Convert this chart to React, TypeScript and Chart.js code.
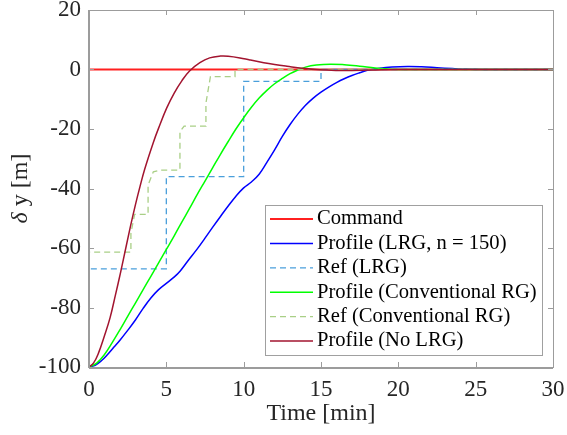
import React, { useEffect, useRef } from 'react';
import { Chart, registerables } from 'chart.js';

Chart.register(...registerables);

// Axis ticks
const xTickValues = [0, 5, 10, 15, 20, 25, 30];
const yTickValues = [-100, -80, -60, -40, -20, 0, 20];

// Command (constant target)
const commandTime = [0, 30];
const commandValue = [0, 0];

// Profile (LRG, n = 150)
const lrgTime = [0, 0.4, 0.8, 1.2, 1.6, 2.0, 2.5, 3.0, 3.5, 4.0, 4.5, 5.0, 5.5, 5.9, 6.4, 7.0, 7.5, 8.0, 8.5, 9.0, 9.5, 10.0, 10.5, 11.0, 11.5, 12.0, 12.5, 13.0, 13.5, 14.0, 14.5, 15.0, 15.5, 16.0, 16.5, 17.0, 17.5, 18.0, 18.8, 19.6, 20.6, 21.5, 22.5, 23.5, 24.5, 26, 30];
const lrgProfile = [-100, -99.4, -97.9, -95.8, -93.4, -91, -87.7, -84.2, -80.3, -76.8, -74, -71.9, -69.8, -67.7, -64.3, -60.3, -56.7, -53, -49.4, -45.9, -42.6, -39.8, -37.8, -35.2, -31.2, -27, -22.5, -18.5, -15, -12, -9.6, -7.6, -5.9, -4.4, -3.1, -2.0, -1.1, -0.3, 0.4, 0.8, 1.0, 0.9, 0.6, 0.3, 0.05, 0, 0];

// Ref (LRG)
const lrgRefTime = [0, 0, 5, 5, 10, 10, 15, 15, 30];
const lrgRefValue = [-100, -67, -67, -36, -36, -4, -4, 0, 0];

// Profile (Conventional RG)
const convTime = [0, 0.5, 1.0, 1.5, 2.0, 2.5, 3.0, 3.5, 4.0, 4.5, 5.0, 5.5, 6.0, 6.5, 7.0, 7.5, 8.0, 8.5, 9.0, 9.5, 10.0, 10.5, 11.0, 11.5, 12.0, 12.5, 13.0, 13.5, 14.0, 14.7, 15.6, 16.5, 17.5, 18.5, 19.5, 21, 30];
const convProfile = [-100, -98.7, -95.8, -91.8, -87.5, -83, -78.5, -74, -69.5, -65, -60.5, -56, -51.3, -46.7, -42, -37.5, -33, -28.5, -24.2, -20, -16.2, -12.7, -9.6, -7, -4.8, -3, -1.4, -0.2, 0.8, 1.5, 1.8, 1.6, 1.1, 0.5, 0.1, 0, 0];

// Ref (Conventional RG)
const convRefTime = [0, 0, 2.71, 2.71, 2.95, 3.82, 3.82, 4.16, 4.6, 5.88, 5.88, 6.15, 7.56, 7.56, 7.85, 9.44, 9.44, 30];
const convRefValue = [-100, -61.4, -61.4, -55, -48.7, -48.7, -38.8, -34.4, -33.8, -33.8, -20.9, -19, -19, -11.3, -2.4, -2.4, 0, 0];

// Profile (No LRG)
const noLrgTime = [0, 0.3, 0.6, 1.0, 1.36, 1.7, 2.05, 2.4, 2.69, 3.0, 3.3, 3.6, 4.16, 4.5, 5.02, 5.5, 6.0, 6.5, 7.17, 7.8, 8.5, 9.0, 9.76, 10.4, 11.3, 12.0, 12.8, 13.8, 14.9, 16, 17, 18.2, 20, 30];
const noLrgProfile = [-100, -98.6, -95.5, -89.5, -83.5, -76, -68, -59.5, -52.5, -45.5, -39.3, -33.5, -24.5, -19.7, -13, -8, -3.8, -0.5, 2.3, 3.9, 4.5, 4.45, 3.9, 3.2, 2.3, 1.7, 1.1, 0.4, -0.1, -0.3, -0.3, -0.2, 0, 0];

const seriesLabels = [
  'Command',
  'Profile (LRG, n = 150)',
  'Ref (LRG)',
  'Profile (Conventional RG)',
  'Ref (Conventional RG)',
  'Profile (No LRG)',
];

const FONT = '"Liberation Serif", "Times New Roman", serif';
const AXIS_GRAY = '#9c9c9c';
const TEXT_DARK = '#262626';

const toPoints = (t: number[], v: number[]) => t.map((x, i) => ({ x, y: v[i] }));

// Box around the plot with inward tick marks on all four sides, the y-axis
// title (italic delta) and an in-plot legend in the lower right corner.
const boxAndLegend = {
  id: 'boxAndLegend',
  afterDatasetsDraw(chart: any) {
    const { ctx, chartArea, scales } = chart;
    const { left, right, top, bottom } = chartArea;
    const xs = scales.x;
    const ys = scales.y;
    const tickLen = 5;
    ctx.save();
    ctx.strokeStyle = AXIS_GRAY;
    ctx.lineWidth = 1;
    ctx.beginPath();
    xs.ticks.forEach((t: any) => {
      const px = Math.round(xs.getPixelForValue(t.value)) + 0.5;
      ctx.moveTo(px, bottom);
      ctx.lineTo(px, bottom - tickLen);
      ctx.moveTo(px, top);
      ctx.lineTo(px, top + tickLen);
    });
    ys.ticks.forEach((t: any) => {
      const py = Math.round(ys.getPixelForValue(t.value)) + 0.5;
      ctx.moveTo(left, py);
      ctx.lineTo(left + tickLen, py);
      ctx.moveTo(right, py);
      ctx.lineTo(right - tickLen, py);
    });
    ctx.stroke();
    ctx.strokeRect(Math.round(left) + 0.5, Math.round(top) + 0.5, Math.round(right - left), Math.round(bottom - top));
    ctx.lineWidth = 2;
    ctx.beginPath();
    ctx.moveTo(Math.round(left), Math.round(bottom) + 1);
    ctx.lineTo(Math.round(right), Math.round(bottom) + 1);
    ctx.moveTo(Math.round(left), Math.round(bottom) + 1);
    ctx.lineTo(Math.round(left), Math.round(top));
    ctx.stroke();

    // y-axis title: italic delta followed by upright text
    ctx.save();
    ctx.translate(20.5, (top + bottom) / 2);
    ctx.rotate(-Math.PI / 2);
    ctx.fillStyle = TEXT_DARK;
    ctx.textBaseline = 'middle';
    ctx.textAlign = 'left';
    const partA = 'δ';
    const partB = ' y [m]';
    ctx.font = `italic 24px ${FONT}`;
    const wA = ctx.measureText(partA).width;
    ctx.font = `24px ${FONT}`;
    const wB = ctx.measureText(partB).width;
    const start = -(wA + wB) / 2;
    ctx.font = `italic 24px ${FONT}`;
    ctx.fillText(partA, start, 0);
    ctx.font = `24px ${FONT}`;
    ctx.fillText(partB, start + wA, 0);
    ctx.restore();

    // legend
    const datasets = chart.data.datasets;
    ctx.font = `20.6px ${FONT}`;
    const rowH = 24.4;
    const sampleLen = 43;
    const pad = 5;
    const gap = 4;
    let maxW = 0;
    datasets.forEach((d: any) => {
      maxW = Math.max(maxW, ctx.measureText(d.label).width);
    });
    const boxW = pad + sampleLen + gap + maxW + pad;
    const boxH = datasets.length * rowH + 3.6;
    const bx = Math.round(right - 11 - boxW);
    const by = Math.round(bottom - 12 - boxH);
    ctx.fillStyle = '#ffffff';
    ctx.fillRect(bx, by, boxW, boxH);
    ctx.strokeStyle = '#a0a0a0';
    ctx.lineWidth = 1;
    ctx.strokeRect(bx + 0.5, by + 0.5, Math.round(boxW), Math.round(boxH));
    datasets.forEach((d: any, i: number) => {
      const cy = by + 14 + i * rowH;
      ctx.save();
      ctx.strokeStyle = d.borderColor;
      ctx.lineWidth = d.borderWidth;
      ctx.setLineDash(d.borderDash || []);
      ctx.beginPath();
      ctx.moveTo(bx + pad, cy);
      ctx.lineTo(bx + pad + sampleLen, cy);
      ctx.stroke();
      ctx.restore();
      ctx.fillStyle = '#000000';
      ctx.textBaseline = 'middle';
      ctx.textAlign = 'left';
      ctx.fillText(d.label, bx + pad + sampleLen + gap, cy);
    });
    ctx.restore();
  },
};

export default function App() {
  const canvasRef = useRef<HTMLCanvasElement>(null);

  useEffect(() => {
    if (!canvasRef.current) return;
    const series = [
      { t: commandTime, v: commandValue, color: '#ff2020', width: 2, dash: [] as number[], smooth: false },
      { t: lrgTime, v: lrgProfile, color: '#0000ff', width: 1.5, dash: [], smooth: true },
      { t: lrgRefTime, v: lrgRefValue, color: '#4a9fdb', width: 1.3, dash: [6, 4], smooth: false },
      { t: convTime, v: convProfile, color: '#00ff00', width: 1.5, dash: [], smooth: true },
      { t: convRefTime, v: convRefValue, color: '#a9cf86', width: 1.3, dash: [6, 4], smooth: false },
      { t: noLrgTime, v: noLrgProfile, color: '#a2142f', width: 1.5, dash: [], smooth: true },
    ];
    const chart = new Chart(canvasRef.current, {
      type: 'line',
      data: {
        datasets: series.map((s, i) => ({
          label: seriesLabels[i],
          data: toPoints(s.t, s.v),
          borderColor: s.color,
          backgroundColor: s.color,
          borderWidth: s.width,
          borderDash: s.dash,
          pointRadius: 0,
          fill: false,
          tension: s.smooth ? 0.4 : 0,
          order: -i,
        })),
      },
      options: {
        responsive: false,
        animation: false,
        devicePixelRatio: 1,
        layout: { padding: { top: 10, right: 14, bottom: 0, left: 0 } },
        plugins: {
          legend: { display: false },
          tooltip: { enabled: false },
        },
        scales: {
          x: {
            type: 'linear',
            min: 0,
            max: 30,
            afterBuildTicks: (scale: any) => {
              scale.ticks = xTickValues.map((value) => ({ value }));
            },
            afterFit: (scale: any) => {
              scale.height = 68;
              scale.paddingLeft = 0;
              scale.paddingRight = 0;
            },
            grid: { display: false, drawTicks: false },
            border: { display: false },
            ticks: {
              color: TEXT_DARK,
              font: { family: FONT, size: 23 },
              padding: 9,
              maxRotation: 0,
            },
            title: {
              display: true,
              text: 'Time [min]',
              color: TEXT_DARK,
              font: { family: FONT, size: 24 },
              padding: { top: 0, bottom: 7 },
            },
          },
          y: {
            type: 'linear',
            min: -100,
            max: 20,
            afterBuildTicks: (scale: any) => {
              scale.ticks = yTickValues.map((value) => ({ value }));
            },
            afterFit: (scale: any) => {
              scale.width = 89;
              scale.paddingTop = 0;
              scale.paddingBottom = 0;
            },
            grid: { display: false, drawTicks: false },
            border: { display: false },
            ticks: {
              color: TEXT_DARK,
              font: { family: FONT, size: 23 },
              padding: 8,
            },
            title: { display: false },
          },
        },
      },
      plugins: [boxAndLegend],
    } as any);
    return () => chart.destroy();
  }, []);

  return (
    <div style={{ position: 'fixed', left: 0, top: 0, width: 567, height: 435, background: '#ffffff' }}>
      <canvas ref={canvasRef} width={567} height={435} style={{ display: 'block' }} />
    </div>
  );
}
